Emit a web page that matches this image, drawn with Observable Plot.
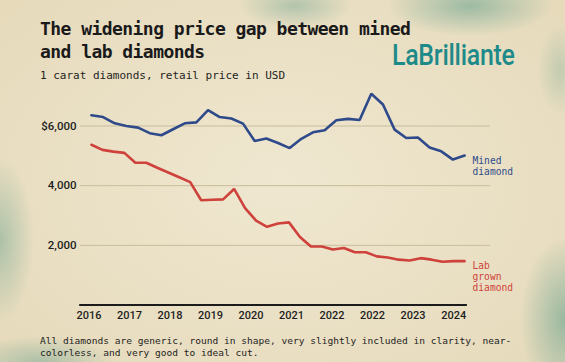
<!DOCTYPE html>
<html>
<head>
<meta charset="utf-8">
<script src="https://cdn.jsdelivr.net/npm/d3@7"></script>
<script src="https://cdn.jsdelivr.net/npm/@observablehq/plot@0.6"></script>
<style>
  html, body { margin: 0; padding: 0; }
  #page {
    position: relative; width: 565px; height: 362px; overflow: hidden;
    background:
      radial-gradient(ellipse 110px 40px at 470px 6px, rgba(95,160,140,.55), rgba(95,160,140,0) 75%),
      radial-gradient(ellipse 75px 30px at 295px 6px, rgba(110,165,145,.45), rgba(110,165,145,0) 75%),
      radial-gradient(ellipse 30px 60px at 560px 70px, rgba(110,165,145,.3), rgba(110,165,145,0) 75%),
      radial-gradient(ellipse 45px 110px at 0px 240px, rgba(100,160,140,.45), rgba(100,160,140,0) 75%),
      radial-gradient(ellipse 100px 35px at 40px 362px, rgba(100,160,140,.45), rgba(100,160,140,0) 75%),
      radial-gradient(ellipse 60px 110px at 565px 320px, rgba(90,155,135,.55), rgba(90,155,135,0) 75%),
      radial-gradient(ellipse 380px 260px at 50% 50%, #efe7d0, #e6dabb);
  }
  .abs { position: absolute; margin: 0; white-space: nowrap; }
  #title { left: 40px; top: 17px; font: bold 18px/23px "DejaVu Sans Mono", monospace; letter-spacing: -0.55px; color: #1a1a1a; }
  #subtitle { left: 40px; top: 69px; font: 11px/14px "DejaVu Sans Mono", monospace; color: #1e1e1e; }
  #logo { left: 392px; top: 38px; font: 500 30px/34px Roboto, sans-serif; color: #1d8a8a; transform-origin: 0 0; transform: scaleX(0.83); letter-spacing: -0.3px; }
  #chart { left: 0; top: 82px; }
  #footer { left: 40px; top: 335px; font: 9.55px/12px "DejaVu Sans Mono", monospace; color: #1e1e1e; }
</style>
</head>
<body>
<div id="page">
  <div id="title" class="abs">The widening price gap between mined<br>and lab diamonds</div>
  <div id="subtitle" class="abs">1 carat diamonds, retail price in USD</div>
  <div id="logo" class="abs">LaBrilliante</div>
  <div id="chart" class="abs"></div>
  <div id="footer" class="abs">All diamonds are generic, round in shape, very slightly included in clarity, near-<br>colorless, and very good to ideal cut.</div>
</div>
<script>
// X tick labels (as printed in the original, evenly spaced)
const xLabels = ["2016", "2017", "2018", "2019", "2020", "2021", "2022", "2022", "2023", "2024"];
// Y gridline values
const yTicks = [2000, 4000, 6000];
// Mined diamond price, USD (quarterly-ish samples)
const minedValues = [6360, 6300, 6090, 6000, 5945, 5760, 5690, 5890, 6090, 6120, 6530, 6300, 6250, 6080, 5500, 5580, 5430, 5260, 5570, 5790, 5860, 6190, 6240, 6200, 7080, 6720, 5880, 5600, 5615, 5280, 5150, 4875, 5010];
// Lab grown diamond price, USD
const labValues = [5372, 5200, 5140, 5100, 4770, 4770, 4600, 4440, 4280, 4120, 3510, 3530, 3540, 3890, 3250, 2830, 2620, 2730, 2770, 2280, 1960, 1960, 1860, 1910, 1770, 1770, 1630, 1590, 1520, 1490, 1570, 1520, 1450, 1470, 1470];

const blue = "#2f4a8a";
const red = "#cf413b";

// series span along the label axis (label units)
const tStart = 0.06, tEnd = 9.27;
const toSeries = (vals) => vals.map((v, i) => ({t: tStart + i * (tEnd - tStart) / (vals.length - 1), v}));
const mined = toSeries(minedValues);
const lab = toSeries(labValues);

const axisFont = "Roboto, sans-serif";
const labelFont = "'DejaVu Sans Mono', monospace";

const chart = Plot.plot({
  width: 565,
  height: 245,
  marginLeft: 80,
  marginRight: 75,
  marginTop: 7.7,
  marginBottom: 22.5,
  x: {domain: [-0.21, 9.91], axis: null},
  y: {domain: [0, 7200], axis: null},
  style: {background: "transparent", overflow: "visible"},
  marks: [
    Plot.ruleY(yTicks, {stroke: "#c8bc9b", strokeWidth: 1}),
    Plot.axisY({ticks: yTicks, tickSize: 0, tickPadding: 4, label: null,
      tickFormat: d => (d === 6000 ? "$" : "") + d3.format(",")(d),
      fontFamily: axisFont, fontSize: 11.5, fontWeight: 500, fill: "#1e1e1e"}),
    Plot.axisX({ticks: d3.range(xLabels.length), tickSize: 0, tickPadding: 6, label: null,
      tickFormat: i => xLabels[i],
      fontFamily: axisFont, fontSize: 11, fontWeight: 500, fill: "#1e1e1e"}),
    Plot.ruleY([0], {x1: -0.23, x2: 9.34, stroke: "#1b1b1b", strokeWidth: 2}),
    Plot.line(mined, {x: "t", y: "v", stroke: blue, strokeWidth: 2.6, strokeLinejoin: "miter"}),
    Plot.line(lab, {x: "t", y: "v", stroke: red, strokeWidth: 2.6, strokeLinejoin: "miter"}),
    Plot.text([mined[mined.length - 1]], {x: "t", y: "v", text: () => "Mined\ndiamond",
      textAnchor: "start", lineAnchor: "top", dx: 8, dy: 1, lineHeight: 1.15,
      fill: blue, fontFamily: labelFont, fontSize: 9.6}),
    Plot.text([lab[lab.length - 1]], {x: "t", y: "v", text: () => "Lab\ngrown\ndiamond",
      textAnchor: "start", lineAnchor: "top", dx: 8, dy: 0, lineHeight: 1.15,
      fill: red, fontFamily: labelFont, fontSize: 9.6})
  ]
});
document.getElementById("chart").appendChild(chart);
</script>
</body>
</html>
